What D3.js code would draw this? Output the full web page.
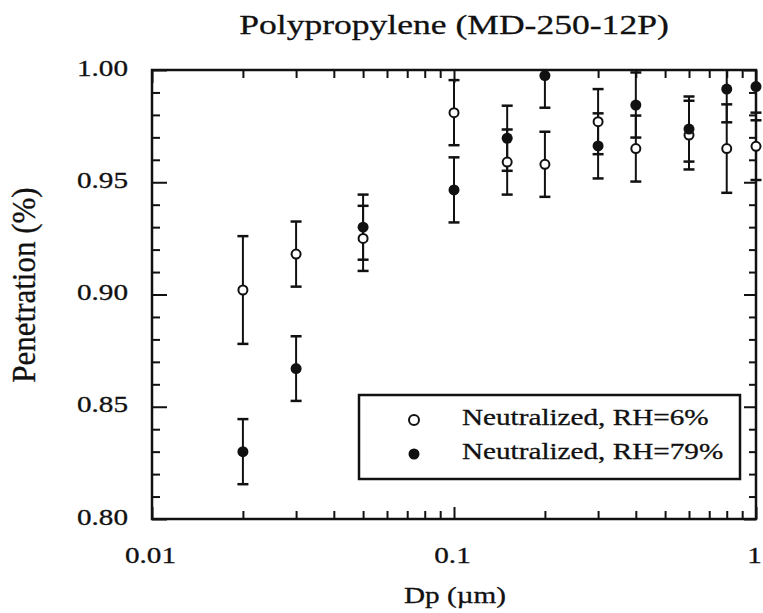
<!DOCTYPE html>
<html>
<head>
<meta charset="utf-8">
<script src="https://cdn.jsdelivr.net/npm/d3@7"></script>
<style>
  body { margin: 0; background: #fff; }
  text { font-family: "Liberation Serif", "Times New Roman", serif; fill: #111; stroke: #111; stroke-width: 0.3px; }
</style>
</head>
<body>
<svg class="chart" width="763" height="613"></svg>
<script>
// particle diameters (um)
const dp = [0.02, 0.03, 0.05, 0.1, 0.15, 0.2, 0.3, 0.4, 0.6, 0.8, 1.0];

// Neutralized, RH=6% (open)
const rh6 = [0.902, 0.918, 0.925, 0.981, 0.959, 0.958, 0.977, 0.965, 0.971, 0.965, 0.966];
const rh6Err = [0.024, 0.0145, 0.0145, 0.0145, 0.0145, 0.0145, 0.0145, 0.0147, 0.0153, 0.0197, 0.015];

// Neutralized, RH=79% (filled)
const rh79 = [0.830, 0.867, 0.930, 0.9466, 0.9696, 0.9975, 0.9662, 0.9844, 0.9737, 0.9915, 0.9926];
const rh79Err = [0.0145, 0.0144, 0.0145, 0.0145, 0.0145, 0.0143, 0.0145, 0.0145, 0.0145, 0.0148, 0.015];

const xMajor = [0.01, 0.1, 1];
const xMajorLabels = ["0.01", "0.1", "1"];
const yMajor = [0.80, 0.85, 0.90, 0.95, 1.00];

const svg = d3.select(".chart"),
    pl = 152, pr = 756, pt = 70, pb = 519;

const x = d3.scaleLog().domain([0.01, 1]).range([pl, pr]);
const y = d3.scaleLinear().domain([0.8, 1]).range([pb, pt]);

const xMinor = d3.range(2, 10).map(k => k * 0.01).concat(d3.range(2, 10).map(k => k * 0.1));
const yMinor = d3.range(81, 100).map(k => k / 100).filter(v => Math.round(v * 100) % 5 !== 0);

// the scan is wider than it is tall, so text gets stretched sideways
const SX = 1.27;

// ticks (all inward)
const gxb = svg.append("g").attr("transform", `translate(0,${pb})`);
gxb.call(d3.axisBottom(x).tickValues(xMinor).tickSize(-8).tickFormat(""));
gxb.append("g").attr("class", "major").call(d3.axisBottom(x).tickValues(xMajor).tickSize(-12)
    .tickFormat((d, i) => xMajorLabels[i]));

const gxt = svg.append("g").attr("transform", `translate(0,${pt})`);
gxt.call(d3.axisTop(x).tickValues(xMinor).tickSize(-8).tickFormat(""));
gxt.append("g").call(d3.axisTop(x).tickValues(xMajor).tickSize(-13).tickFormat(""));

const gyl = svg.append("g").attr("transform", `translate(${pl},0)`);
gyl.call(d3.axisLeft(y).tickValues(yMinor).tickSize(-8).tickFormat(""));
gyl.append("g").attr("class", "major").call(d3.axisLeft(y).tickValues(yMajor).tickSize(-15)
    .tickFormat(d3.format(".2f")));

const gyr = svg.append("g").attr("transform", `translate(${pr},0)`);
gyr.call(d3.axisRight(y).tickValues(yMinor).tickSize(-7).tickFormat(""));
gyr.append("g").call(d3.axisRight(y).tickValues(yMajor).tickSize(-12).tickFormat(""));

svg.selectAll(".domain").remove();
svg.selectAll(".tick line").attr("stroke", "#111").attr("stroke-width", 2);
svg.selectAll(".tick text").attr("font-size", 23).attr("fill", "#111")
    .style("font-family", "'Liberation Serif', serif");
gyl.selectAll(".major .tick text")
    .attr("x", 0).attr("dy", null).attr("y", 5)
    .attr("transform", `translate(-24,0) scale(${SX},1)`);
gxb.selectAll(".major .tick text")
    .attr("x", 0).attr("dy", null).attr("y", 0)
    .attr("transform", `translate(-2,44) scale(${SX},1)`);

// frame
svg.append("rect")
    .attr("x", pl).attr("y", pt)
    .attr("width", pr - pl).attr("height", pb - pt)
    .attr("fill", "none").attr("stroke", "#111").attr("stroke-width", 2.5);

// error bars, clipped to the frame vertically
svg.append("clipPath").attr("id", "clip")
    .append("rect").attr("x", pl - 20).attr("y", pt).attr("width", pr - pl + 40).attr("height", pb - pt);

const series = [
    { vals: rh6, err: rh6Err, filled: false },
    { vals: rh79, err: rh79Err, filled: true }
];

const eb = svg.append("g").attr("clip-path", "url(#clip)")
    .attr("stroke", "#111").attr("stroke-width", 2);

series.forEach(s => {
    const pts = dp.map((d, i) => ({ d: d, v: s.vals[i], e: s.err[i] }));
    eb.selectAll(null).data(pts).enter().append("line")
        .attr("x1", p => x(p.d)).attr("x2", p => x(p.d))
        .attr("y1", p => y(p.v + p.e)).attr("y2", p => y(p.v - p.e));
    eb.selectAll(null).data(pts).enter().append("line")
        .attr("x1", p => x(p.d) - 5.5).attr("x2", p => x(p.d) + 5.5)
        .attr("y1", p => y(p.v + p.e)).attr("y2", p => y(p.v + p.e))
        .attr("stroke-width", 2.5);
    eb.selectAll(null).data(pts).enter().append("line")
        .attr("x1", p => x(p.d) - 5.5).attr("x2", p => x(p.d) + 5.5)
        .attr("y1", p => y(p.v - p.e)).attr("y2", p => y(p.v - p.e))
        .attr("stroke-width", 2.5);
});

series.forEach(s => {
    svg.selectAll(null).data(dp).enter().append("circle")
        .attr("cx", d => x(d))
        .attr("cy", (d, i) => y(s.vals[i]))
        .attr("r", s.filled ? 5.5 : 4.5)
        .attr("fill", s.filled ? "#111" : "#fff")
        .attr("stroke", "#111")
        .attr("stroke-width", s.filled ? 0 : 2);
});

function label(px, py, txt, size, anchor, rot) {
    const tf = rot
        ? `translate(${px},${py}) rotate(-90) scale(1,1.1)`
        : `translate(${px},${py}) scale(${SX},1)`;
    return svg.append("text").attr("transform", tf)
        .attr("text-anchor", anchor || "start")
        .attr("font-size", size).text(txt);
}

// legend
svg.append("rect").attr("x", 359).attr("y", 395).attr("width", 381).attr("height", 84)
    .attr("fill", "#fff").attr("stroke", "#111").attr("stroke-width", 2.5);
svg.append("circle").attr("cx", 414).attr("cy", 420).attr("r", 5)
    .attr("fill", "#fff").attr("stroke", "#111").attr("stroke-width", 2);
svg.append("circle").attr("cx", 414).attr("cy", 454).attr("r", 5.5).attr("fill", "#111");
label(462, 425, "Neutralized, RH=6%", 23);
label(462, 459, "Neutralized, RH=79%", 23);

// titles
label(454, 34, "Polypropylene (MD-250-12P)", 28, "middle");
label(455, 603, "Dp (\u00b5m)", 23, "middle");
label(35, 285, "Penetration (%)", 31, "middle", true);
</script>
</body>
</html>
